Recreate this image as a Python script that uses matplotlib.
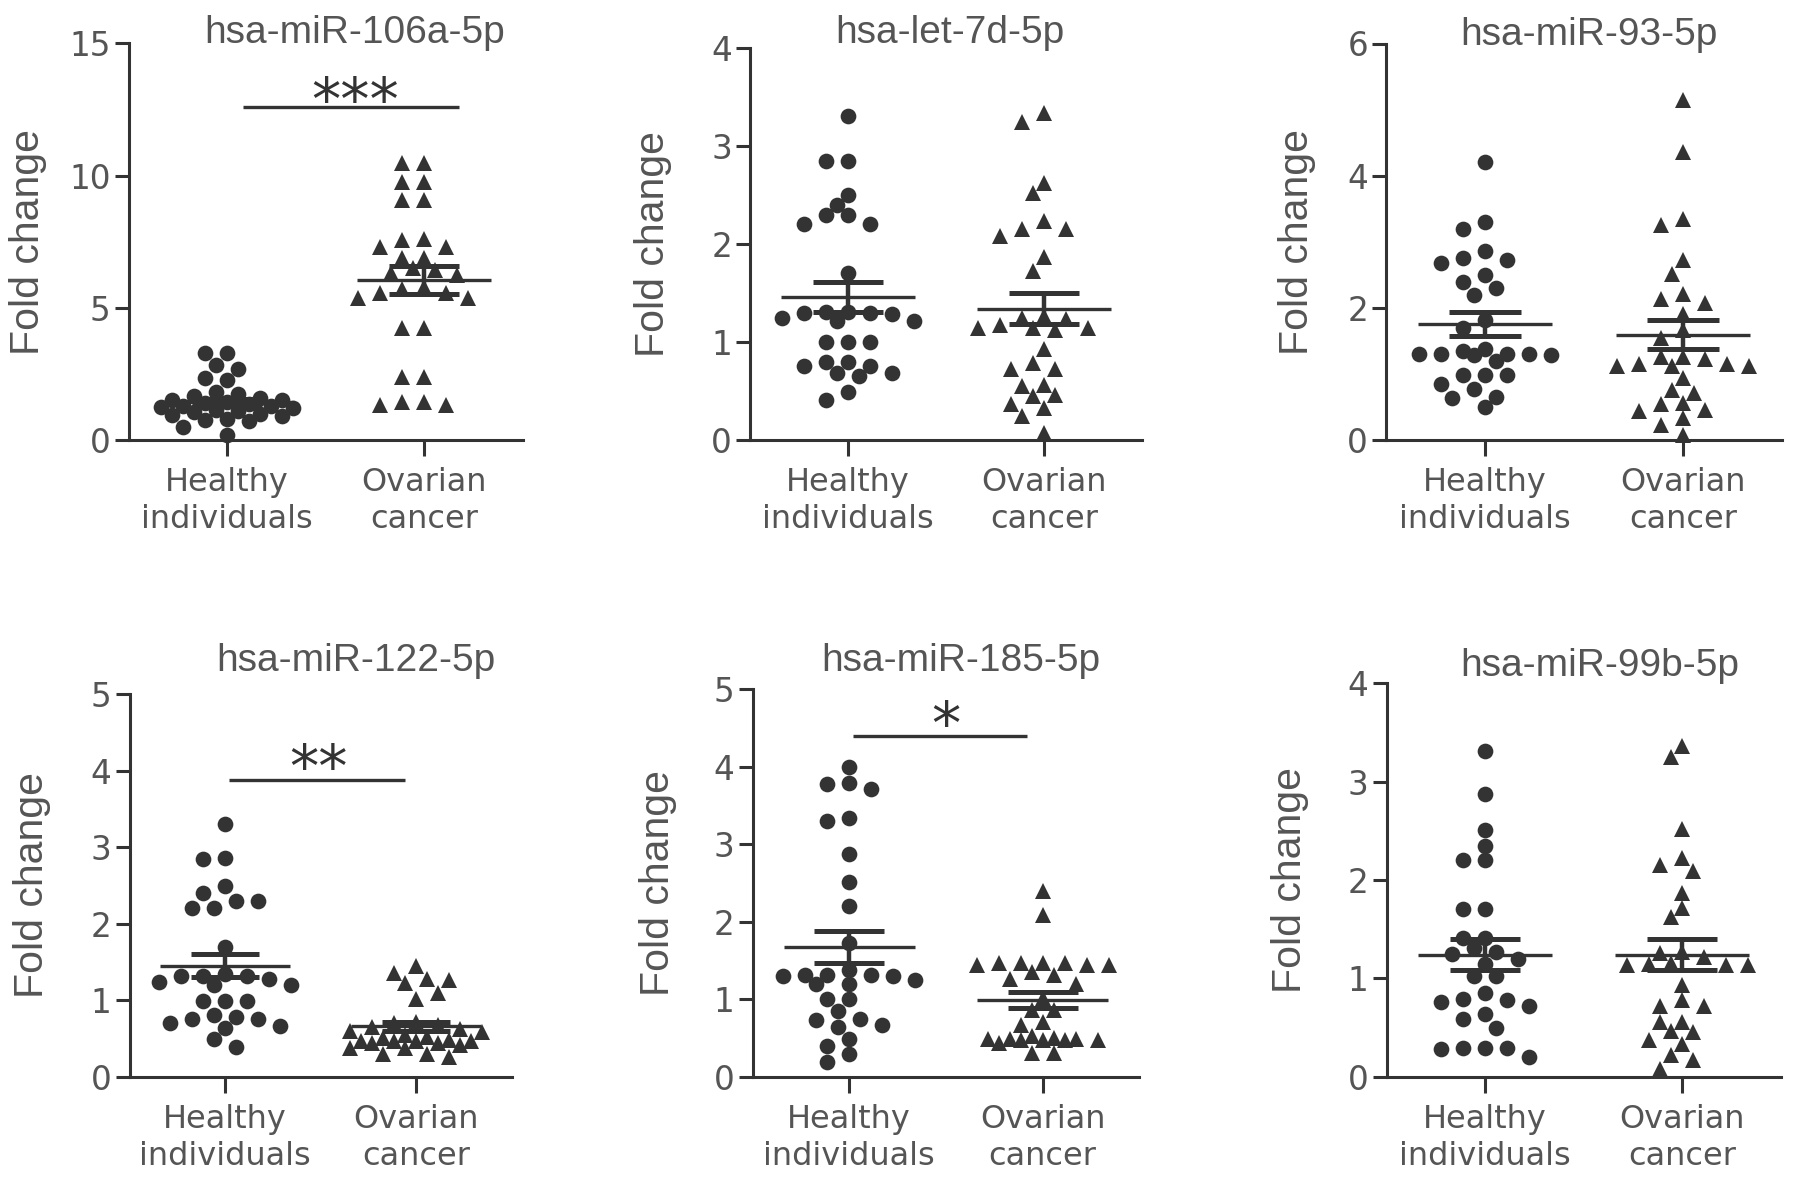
import numpy as np
import matplotlib
matplotlib.use("Agg")
import matplotlib.pyplot as plt
from matplotlib import transforms

# ---------------- data ----------------
categories = ["Healthy\nindividuals", "Ovarian\ncancer"]
titles = ["hsa-miR-106a-5p", "hsa-let-7d-5p", "hsa-miR-93-5p",
          "hsa-miR-122-5p", "hsa-miR-185-5p", "hsa-miR-99b-5p"]
y_max = [15, 4, 6, 5, 5, 4]
y_ticks = [[0, 5, 10, 15], [0, 1, 2, 3, 4], [0, 2, 4, 6],
           [0, 1, 2, 3, 4, 5], [0, 1, 2, 3, 4, 5], [0, 1, 2, 3, 4]]

healthy_106a = [3.28, 3.28, 2.84, 2.67, 2.33, 2.27, 1.80, 1.75, 1.65, 1.60, 1.50, 1.50,
                1.45, 1.40, 1.35, 1.30, 1.30, 1.25, 1.20, 1.15, 1.10, 1.05, 1.00, 0.95,
                0.90, 0.80, 0.75, 0.70, 0.50, 0.20]
ovarian_106a = [10.49, 10.49, 9.77, 9.77, 9.08, 9.08, 7.59, 7.56, 7.31, 7.31, 6.87, 6.87,
                6.49, 6.43, 6.30, 6.24, 5.80, 5.70, 5.55, 5.55, 5.36, 5.36, 4.22, 4.22,
                2.39, 2.39, 1.45, 1.45, 1.32, 1.32]
healthy_let7d = [3.30, 2.84, 2.84, 2.50, 2.40, 2.29, 2.29, 2.20, 2.20, 1.70, 1.31, 1.31,
                 1.30, 1.30, 1.28, 1.24, 1.21, 1.21, 1.00, 1.00, 1.00, 0.80, 0.80, 0.75,
                 0.75, 0.68, 0.68, 0.65, 0.49, 0.41]
ovarian_let7d = [3.33, 3.24, 2.62, 2.52, 2.23, 2.15, 2.15, 2.08, 1.87, 1.72, 1.26, 1.24,
                 1.23, 1.17, 1.14, 1.14, 1.14, 1.12, 0.93, 0.79, 0.72, 0.72, 0.56, 0.55,
                 0.46, 0.45, 0.37, 0.33, 0.24, 0.07]
healthy_93 = [4.20, 3.30, 3.19, 2.86, 2.76, 2.72, 2.68, 2.50, 2.39, 2.30, 2.19, 1.81,
              1.69, 1.37, 1.35, 1.30, 1.30, 1.30, 1.30, 1.28, 1.28, 1.20, 0.98, 0.98,
              0.98, 0.85, 0.77, 0.65, 0.64, 0.50]
ovarian_93 = [5.14, 4.36, 3.34, 3.25, 2.72, 2.51, 2.21, 2.14, 2.08, 1.91, 1.66, 1.55,
              1.25, 1.25, 1.23, 1.15, 1.15, 1.12, 1.12, 1.12, 0.94, 0.76, 0.71, 0.56,
              0.55, 0.46, 0.44, 0.33, 0.22, 0.08]
healthy_122 = [3.30, 2.86, 2.84, 2.49, 2.40, 2.30, 2.30, 2.20, 2.20, 1.70, 1.34, 1.32,
               1.31, 1.31, 1.28, 1.24, 1.20, 1.20, 0.99, 0.99, 0.99, 0.81, 0.78, 0.76,
               0.75, 0.70, 0.66, 0.63, 0.49, 0.39]
ovarian_122 = [1.45, 1.36, 1.28, 1.26, 1.22, 1.10, 1.02, 0.72, 0.70, 0.68, 0.65, 0.62,
               0.60, 0.58, 0.55, 0.52, 0.50, 0.48, 0.46, 0.46, 0.46, 0.46, 0.44, 0.44,
               0.42, 0.37, 0.37, 0.30, 0.30, 0.26]
healthy_185 = [4.00, 3.79, 3.78, 3.71, 3.33, 3.30, 2.87, 2.51, 2.20, 1.72, 1.38, 1.31,
               1.31, 1.31, 1.30, 1.30, 1.25, 1.20, 1.20, 1.00, 1.00, 0.85, 0.75, 0.73,
               0.67, 0.64, 0.49, 0.40, 0.29, 0.19]
ovarian_185 = [2.39, 2.09, 1.47, 1.47, 1.46, 1.46, 1.44, 1.44, 1.44, 1.35, 1.31, 1.26,
               1.20, 1.01, 0.86, 0.86, 0.70, 0.67, 0.52, 0.50, 0.49, 0.48, 0.48, 0.47,
               0.47, 0.47, 0.47, 0.43, 0.30, 0.30]
healthy_99b = [3.31, 2.87, 2.51, 2.35, 2.20, 2.20, 1.71, 1.71, 1.41, 1.41, 1.31, 1.27,
               1.25, 1.20, 1.15, 1.02, 1.02, 0.85, 0.79, 0.78, 0.76, 0.72, 0.64, 0.59,
               0.50, 0.29, 0.29, 0.29, 0.28, 0.20]
ovarian_99b = [3.36, 3.25, 2.52, 2.22, 2.15, 2.09, 1.87, 1.72, 1.62, 1.27, 1.26, 1.22,
               1.16, 1.15, 1.14, 1.14, 1.14, 0.93, 0.78, 0.72, 0.72, 0.56, 0.56, 0.46,
               0.45, 0.37, 0.33, 0.22, 0.17, 0.08]

healthy = [healthy_106a, healthy_let7d, healthy_93, healthy_122, healthy_185, healthy_99b]
ovarian = [ovarian_106a, ovarian_let7d, ovarian_93, ovarian_122, ovarian_185, ovarian_99b]

mean_healthy = [1.45, 1.46, 1.76, 1.45, 1.67, 1.24]
sem_healthy = [0.11, 0.15, 0.18, 0.15, 0.21, 0.16]
mean_ovarian = [6.05, 1.34, 1.59, 0.66, 0.99, 1.24]
sem_ovarian = [0.52, 0.16, 0.22, 0.06, 0.10, 0.16]

# significance annotations
sig_panel = [0, 3, 4]
sig_label = ["***", "**", "*"]
sig_level = [12.6, 3.87, 4.39]
sig_x0 = [0.08, 0.02, 0.02]
sig_x1 = [1.18, 0.94, 0.92]
sig_star_x = [0.65, 0.49, 0.50]
sig_star_y = [13.4, 4.24, 4.73]

# ---------------- layout / style ----------------
W, H = 1795, 1185
fig = plt.figure(figsize=(W / 100, H / 100), dpi=100)
fig.patch.set_facecolor("white")

# (first category tick x px, category spacing px, top px, bottom px)
geom = [(227, 197, 43.3, 440), (848, 196, 47.7, 440), (1485, 198, 43.5, 440),
        (225, 191, 694, 1076.7), (849.3, 193.4, 689, 1076.7), (1485, 197, 683.3, 1076.7)]
ylabel_off = [81, 78, 70, 78, 76, 77.5]
title_pos = [(355, 43), (950, 43), (1589, 45), (356, 670.7), (961, 670.7), (1600, 676)]

LINE = "#333333"
TEXT = "#555555"
DIAM = 15.5   # marker diameter px
DX = 22.0     # column step px


def swarm_offsets(vals, ppu, maxk=6):
    vals = np.asarray(vals, float)
    order = np.argsort(-vals, kind="stable")
    cands = [0] + [sgn * k for k in range(1, maxk + 1) for sgn in (-1, 1)]
    placed = []
    offs = np.zeros(len(vals))
    for i in order:
        y = vals[i] * ppu
        best_x, best_d = 0.0, -1.0
        chosen = None
        for c in cands:
            x = c * DX / 2.0
            if placed:
                p = np.array(placed)
                d = np.min(np.hypot(p[:, 0] - x, p[:, 1] - y))
            else:
                d = np.inf
            if d >= DIAM * 0.95:
                chosen = x
                break
            if d > best_d:
                best_d, best_x = d, x
        if chosen is None:
            chosen = best_x
        placed.append((chosen, y))
        offs[i] = chosen
    return offs


for k in range(6):
    T0, s, top, bot = geom[k]
    L = T0 - 0.5 * s
    R = T0 + 1.5 * s
    ax = fig.add_axes([L / W, 1 - bot / H, (R - L) / W, (bot - top) / H])
    ax.set_xlim(-0.5, 1.5)
    ax.set_ylim(0, y_max[k])
    for sp in ("top", "right"):
        ax.spines[sp].set_visible(False)
    for sp in ("left", "bottom"):
        ax.spines[sp].set_linewidth(2.2)
        ax.spines[sp].set_color(LINE)
    ax.set_yticks(y_ticks[k])
    ax.set_xticks([0, 1])
    ax.set_xticklabels(categories, family="DejaVu Sans", linespacing=1.25)
    ax.tick_params(axis="both", direction="out", width=2.2, color=LINE,
                   labelcolor=TEXT, labelsize=23)
    ax.tick_params(axis="y", length=10, pad=3)
    ax.tick_params(axis="x", length=11.5, pad=8)
    for lb in ax.get_yticklabels():
        lb.set_family("DejaVu Sans")
        lb.set_fontsize(23.5)

    ppu = (bot - top) / y_max[k]
    groups = [healthy[k], ovarian[k]]
    means = [mean_healthy[k], mean_ovarian[k]]
    sems = [sem_healthy[k], sem_ovarian[k]]
    for j, (vals, mk, ms) in enumerate(zip(groups, ["o", "^"], [11.3, 11.3])):
        offs = swarm_offsets(vals, ppu) / s
        ax.plot(j + offs, vals, linestyle="none", marker=mk, markersize=ms,
                color=LINE, markeredgewidth=0, zorder=3, clip_on=False)
        m, e = means[j], sems[j]
        ax.hlines(m, j - 0.34, j + 0.34, color=LINE, lw=2.4, zorder=4)
        ax.vlines(j, m - e, m + e, color=LINE, lw=3.2, zorder=4)
        ax.hlines([m - e, m + e], j - 0.18, j + 0.18, color=LINE, lw=3.6, zorder=4)

    ax.set_ylabel("Fold change", family="Liberation Sans", fontsize=29.5, color=TEXT)
    ax.yaxis.set_label_coords(-ylabel_off[k] / (R - L), 0.5)

    tx, ty = title_pos[k]
    fig.text(tx / W, 1 - ty / H, titles[k], ha="center", va="baseline",
             family="Liberation Sans", fontsize=28, color=TEXT)

    if k in sig_panel:
        q = sig_panel.index(k)
        ax.hlines(sig_level[q], sig_x0[q], sig_x1[q], color=LINE, lw=2.4)
        fs = 42
        tr = transforms.offset_copy(ax.transData, fig=fig, y=-0.59 * fs, units="points")
        ax.text(sig_star_x[q], sig_star_y[q], sig_label[q], transform=tr,
                ha="center", va="baseline", family="DejaVu Sans", fontsize=fs,
                color=LINE)

fig.savefig("out.png", dpi=100, facecolor="white")
